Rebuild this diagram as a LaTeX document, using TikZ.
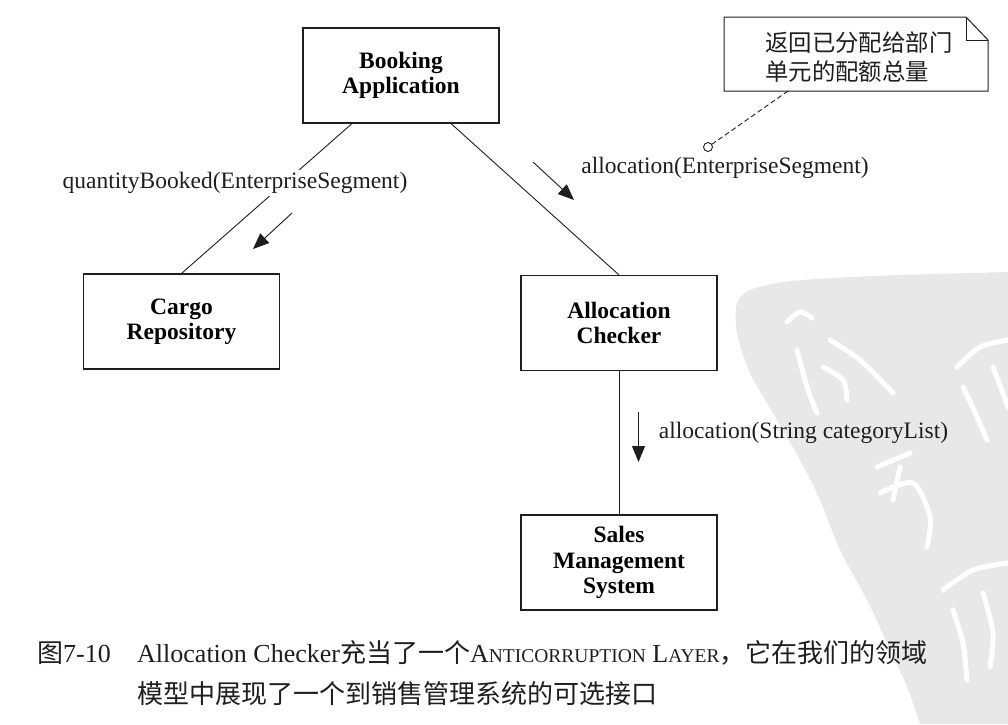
\documentclass[tikz,border=0pt]{standalone}
\usepackage{fontspec}
\setmainfont{Liberation Serif}
\newfontfamily\cjk{Noto Sans CJK SC}
\usetikzlibrary{arrows.meta,calc}
\definecolor{wm}{RGB}{232,232,232}
\definecolor{ink}{RGB}{30,30,30}
\newcommand{\fsc}[1]{{\fontsize{19.5}{20}\selectfont #1}}
\begin{document}
\begin{tikzpicture}[x=1pt,y=-1pt,
  box/.style={draw=ink, line width=1.1pt, minimum width=196pt, minimum height=95pt,
    align=center, inner sep=0pt, font=\fontsize{23.5}{25.5}\selectfont\bfseries},
  lbl/.style={inner sep=2pt, font=\fontsize{23.5}{26}\selectfont, text=ink},
  link/.style={draw=ink, line width=0.9pt},
  msg/.style={draw=ink, line width=0.9pt, -{Triangle[length=16pt,width=13pt]}},
  stroke/.style={draw=white, line width=5pt, line cap=round, line join=round},
  capt/.style={anchor=west, inner sep=0pt, font=\fontsize{26}{30}\selectfont, text=ink}]
\useasboundingbox (0,0) rectangle (1008,724);
% watermark
\fill[wm] plot[smooth] coordinates {(1008,272) (900,275) (833,278) (783,282) (750,290) (737,303) (737,333) (750,373) (773,413) (800,460) (820,500) (840,550) (867,600) (887,643) (907,687) (920,724)} -- (1008,724) -- cycle;
\draw[stroke] plot[smooth] coordinates {(787,322) (800,312) (812,318)};
\draw[stroke] plot[smooth] coordinates {(797,350) (807,387) (817,413)};
\draw[stroke] plot[smooth] coordinates {(830,340) (860,360) (893,393)};
\draw[stroke] plot[smooth] coordinates {(823,367) (843,380) (847,400)};
\draw[stroke] plot[smooth] coordinates {(957,367) (980,347) (1008,340)};
\draw[stroke] plot[smooth] coordinates {(963,387) (977,417) (987,440)};
\draw[stroke] (993,367) -- (1008,407);
\draw[stroke] (877,467) -- (910,453);
\draw[stroke] plot[smooth] coordinates {(880,493) (913,483) (930,517) (927,547)};
\draw[stroke] (900,467) -- (893,500);
\draw[stroke] plot[smooth] coordinates {(943,590) (973,570) (1008,563)};
\draw[stroke] plot[smooth] coordinates {(953,610) (963,643) (967,680)};
\draw[stroke] plot[smooth] coordinates {(983,593) (993,633) (990,667)};
% boxes
\node[box] (book) at (401,75.5) {Booking\\Application};
\node[box] (cargo) at (181.5,321.5) {Cargo\\Repository};
\node[box] (alloc) at (619,323) {Allocation\\Checker};
\node[box] (sales) at (619,562.5) {Sales\\Management\\System};
% connectors
\draw[link] ([xshift=-49pt]book.south) -- (cargo.north);
\draw[link] ([xshift=50pt]book.south) -- (alloc.north);
\draw[link] (alloc.south) -- (sales.north);
% labels
\node[lbl, fill=white] (qb) at (235,183) {quantityBooked(EnterpriseSegment)};
\node[lbl] (al1) at (725,168) {allocation(EnterpriseSegment)};
\node[lbl] (al2) at (803.5,433) {allocation(String categoryList)};
% message arrows
\coordinate (m1s) at (292,213); \coordinate (m1e) at (253,249);
\coordinate (m2s) at (533,162); \coordinate (m2e) at (574,200);
\coordinate (m3s) at (638.5,412); \coordinate (m3e) at (638.5,462);
\draw[msg] (m1s) -- (m1e);
\draw[msg] (m2s) -- (m2e);
\draw[msg] (m3s) -- (m3e);
% note
\coordinate (ntl) at (724,17); \coordinate (nf1) at (966,17);
\coordinate (nf2) at (988,40); \coordinate (nbr) at (988,91);
\coordinate (nbl) at (724,91); \coordinate (nfc) at (966,40);
\coordinate (nanch) at (788,91); \coordinate (pin) at (708,147);
\draw[draw=ink, line width=1pt, fill=white] (ntl) -- (nf1) -- (nf2) -- (nbr) -- (nbl) -- cycle;
\draw[draw=ink, line width=1pt] (nf1) -- (nfc) -- (nf2);
\node[anchor=west, align=left, inner sep=0pt, text=ink, font=\cjk\fontsize{23.4}{29}\selectfont] (notetext) at (765,57) {返回已分配给部门\\单元的配额总量};
\draw[draw=ink, line width=0.9pt, dash pattern=on 5pt off 3pt] (nanch) -- (pin);
\draw[draw=ink, line width=0.9pt, fill=white] (pin) circle (4.5);
% caption
\node[capt] (capnum) at (37,653) {{\cjk 图}7-10};
\node[capt] (cap1) at (137,653) {Allocation Checker{\cjk 充当了一个}A\fsc{NTICORRUPTION} L\fsc{AYER}{\cjk ，它在我们的领域}};
\node[capt] (cap2) at (137,694) {\cjk 模型中展现了一个到销售管理系统的可选接口};
\end{tikzpicture}
\end{document}
